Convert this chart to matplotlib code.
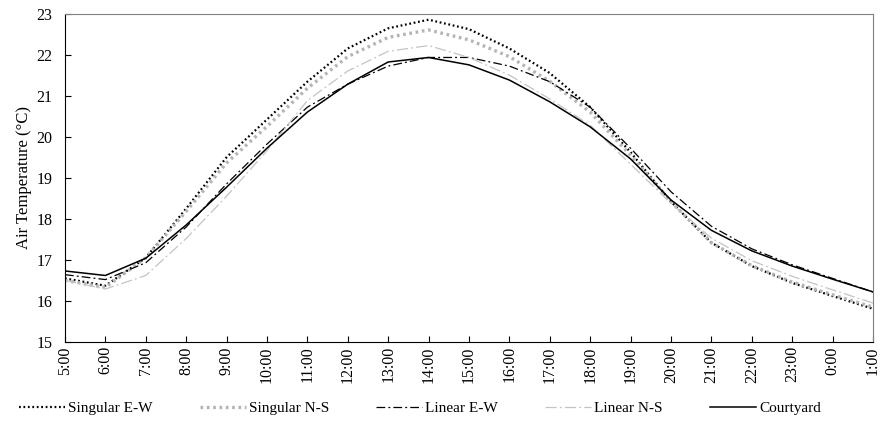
import numpy as np
import matplotlib
matplotlib.use("Agg")
import matplotlib.pyplot as plt

hours = ['5:00', '6:00', '7:00', '8:00', '9:00', '10:00', '11:00', '12:00', '13:00',
         '14:00', '15:00', '16:00', '17:00', '18:00', '19:00', '20:00', '21:00',
         '22:00', '23:00', '0:00', '1:00']

singular_ew = [16.55, 16.37, 17.05, 18.25, 19.50, 20.42, 21.34, 22.15, 22.64, 22.85, 22.62,
               22.15, 21.55, 20.72, 19.62, 18.42, 17.42, 16.85, 16.44, 16.12, 15.81]
singular_ns = [16.50, 16.33, 17.05, 18.18, 19.36, 20.25, 21.18, 21.95, 22.42, 22.60, 22.36,
               21.95, 21.35, 20.60, 19.55, 18.42, 17.42, 16.86, 16.46, 16.15, 15.85]
linear_ew = [16.64, 16.52, 16.93, 17.80, 18.85, 19.82, 20.72, 21.28, 21.72, 21.93, 21.93,
             21.72, 21.34, 20.72, 19.72, 18.66, 17.82, 17.27, 16.88, 16.55, 16.22]
linear_ns = [16.50, 16.29, 16.62, 17.52, 18.55, 19.66, 20.88, 21.60, 22.08, 22.22, 21.93,
             21.50, 20.92, 20.28, 19.33, 18.38, 17.53, 16.98, 16.60, 16.27, 15.95]
courtyard = [16.73, 16.62, 17.04, 17.85, 18.77, 19.72, 20.60, 21.28, 21.82, 21.93, 21.75,
             21.38, 20.85, 20.24, 19.46, 18.46, 17.72, 17.22, 16.85, 16.53, 16.22]

plt.rcParams['font.family'] = ['Liberation Serif', 'DejaVu Serif']

fig = plt.figure(figsize=(8.84, 4.23), dpi=100)
ax = fig.add_axes([0.0735, 0.1915, 0.914, 0.7765])

x = np.arange(len(hours))

# one style per layout
ax.plot(x, singular_ew, color='black', lw=1.6, linestyle=(0, (0.8, 1.2)), label='Singular E-W')
ax.plot(x, singular_ns, color='#b4b4b4', lw=2.4, linestyle=(0, (0.8, 1.1)), label='Singular N-S')
ax.plot(x, linear_ew, color='black', lw=0.9, linestyle=(0, (7, 2.5, 1.5, 2.5)), label='Linear E-W')
ax.plot(x, linear_ns, color='#c4c4c4', lw=0.9, linestyle=(0, (9, 2.5, 1.5, 2.5)), label='Linear N-S')
ax.plot(x, courtyard, color='black', lw=1.1, label='Courtyard')

ax.set_xlim(0, len(hours) - 1)
ax.set_ylim(15, 23)
ax.set_yticks(np.arange(15, 24, 1))
ax.set_xticks(x)
ax.set_xticklabels(hours, rotation=90, fontsize=11.5)
ax.tick_params(axis='y', direction='in', length=4, labelsize=11.5, pad=9)
ax.tick_params(axis='x', direction='in', length=4, pad=3)

ax.set_ylabel('Air Temperature (°C)', fontsize=12, labelpad=3)

for side in ['top', 'right']:
    ax.spines[side].set_color('#808080')
for side in ['left', 'bottom']:
    ax.spines[side].set_color('black')

fig.legend(loc='center', bbox_to_anchor=(0.475, 0.035), ncol=5, frameon=False,
           fontsize=11, handlelength=3.0, handletextpad=0.2, columnspacing=3.1)

plt.savefig('out.png', dpi=100)
